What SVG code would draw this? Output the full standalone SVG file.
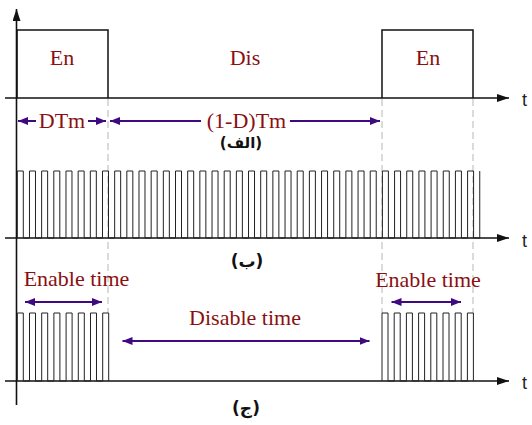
<svg xmlns="http://www.w3.org/2000/svg" width="532" height="425" viewBox="0 0 532 425">
<style>
.axis{stroke:#111;stroke-width:1.6;fill:none}
.sig{stroke:#111;stroke-width:1.5;fill:none}
.pulse{stroke:#222;stroke-width:1;fill:none}
.dash{stroke:#c4c4c4;stroke-width:1.2;stroke-dasharray:7 4;fill:none}
.arr{stroke:#3f0a7f;stroke-width:2;fill:none}
.lbl{font-family:"Liberation Serif","Times New Roman",serif;font-size:22px;fill:#8a1010;text-anchor:middle}
.t{font-family:"Liberation Sans",Arial,sans-serif;font-size:18px;fill:#222}
.ar{font-family:"DejaVu Sans",sans-serif;font-weight:bold;fill:#111;text-anchor:middle}
</style>
<defs>
<marker id="ah" viewBox="0 0 10 8" refX="10" refY="4" markerWidth="10" markerHeight="8" markerUnits="userSpaceOnUse" orient="auto-start-reverse">
<path d="M0,0 L10,4 L0,8 z" fill="#3f0a7f"/>
</marker>
<marker id="ax" viewBox="0 0 12 8" refX="12" refY="4" markerWidth="12" markerHeight="8" markerUnits="userSpaceOnUse" orient="auto">
<path d="M0,0 L12,4 L0,8 z" fill="#111"/>
</marker>
</defs>

<g id="guides">
<path class="dash" d="M108,99 V313 M382,99 V313 M473,99 V313"/>
</g>

<g id="axes">
<path class="axis" d="M16.5,405 V9" marker-end="url(#ax)"/>
<path class="axis" d="M5,98 H509" marker-end="url(#ax)"/>
<path class="axis" d="M5,238 H509" marker-end="url(#ax)"/>
<path class="axis" d="M5,381 H509" marker-end="url(#ax)"/>
<text class="t" x="522" y="106">t</text>
<text class="t" x="522" y="247">t</text>
<text class="t" x="522" y="389">t</text>
</g>

<g id="enable-signal">
<path class="sig" d="M17,98 V30 H108 V98 M382,98 V30 H473 V98"/>
<text class="lbl" x="62" y="65">En</text>
<text class="lbl" x="245" y="65">Dis</text>
<text class="lbl" x="428" y="65">En</text>
</g>

<g id="period-annotation">
<path class="arr" d="M36,121 H18" marker-end="url(#ah)"/>
<path class="arr" d="M88,121 H106" marker-end="url(#ah)"/>
<text class="lbl" x="62" y="128">DTm</text>
<path class="arr" d="M201,121 H110" marker-end="url(#ah)"/>
<path class="arr" d="M290,121 H380" marker-end="url(#ah)"/>
<text class="lbl" x="246.5" y="128">(1-D)Tm</text>
<text class="ar" x="241" y="148" font-size="15">(الف)</text>
</g>

<g id="carrier-signal">
<path class="pulse" d="M17.3,238 v-67h6v67h6.17 v-67h6v67h6.17 v-67h6v67h6.17 v-67h6v67h6.17 v-67h6v67h6.17 v-67h6v67h6.17 v-67h6v67h6.17 v-67h6v67h6.17 v-67h6v67h6.17 v-67h6v67h6.17 v-67h6v67h6.17 v-67h6v67h6.17 v-67h6v67h6.17 v-67h6v67h6.17 v-67h6v67h6.17 v-67h6v67h6.17 v-67h6v67h6.17 v-67h6v67h6.17 v-67h6v67h6.17 v-67h6v67h6.17 v-67h6v67h6.17 v-67h6v67h6.17 v-67h6v67h6.17 v-67h6v67h6.17 v-67h6v67h6.17 v-67h6v67h6.17 v-67h6v67h6.17 v-67h6v67h6.17 v-67h6v67h6.17 v-67h6v67h6.17 v-67h6v67h6.17 v-67h6v67h6.17 v-67h6v67h6.17 v-67h6v67h6.17 v-67h6v67h6.17 v-67h6v67h6.17 v-67h6v67h6.17 v-67h6v67h6.17 v-67"/>
<text class="ar" x="247" y="267" font-size="17">(ب)</text>
</g>

<g id="gated-signal">
<path class="pulse" d="M17.3,381 v-68h6v68h6.2 v-68h6v68h6.2 v-68h6v68h6.2 v-68h6v68h6.2 v-68h6v68h6.2 v-68h6v68h6.2 v-68h6v68h6.2 v-68h6v68"/>
<path class="pulse" d="M382,381 v-68h6v68h6.2 v-68h6v68h6.2 v-68h6v68h6.2 v-68h6v68h6.2 v-68h6v68h6.2 v-68h6v68h6.2 v-68h6v68h6.2 v-68h6v68"/>
<text class="lbl" x="76.5" y="286">Enable time</text>
<path class="arr" d="M25,302 H102" marker-start="url(#ah)" marker-end="url(#ah)"/>
<text class="lbl" x="428" y="287">Enable time</text>
<path class="arr" d="M391.5,302 H461" marker-start="url(#ah)" marker-end="url(#ah)"/>
<text class="lbl" x="245" y="325">Disable time</text>
<path class="arr" d="M122.5,341 H369.5" marker-start="url(#ah)" marker-end="url(#ah)"/>
<text class="ar" x="246" y="414" font-size="17">(ج)</text>
</g>
</svg>
